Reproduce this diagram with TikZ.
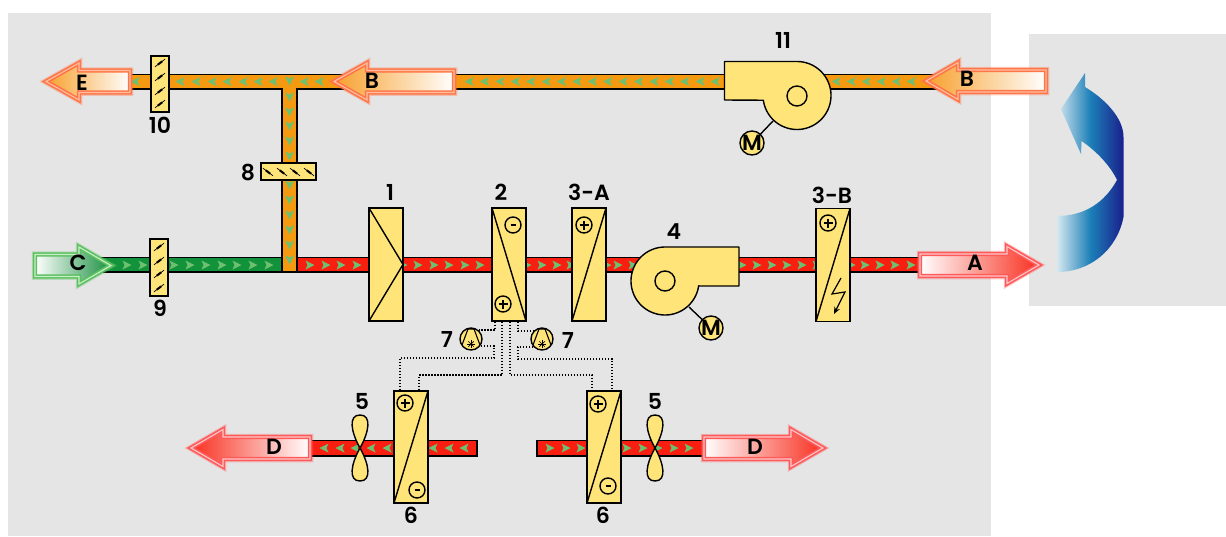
\documentclass[tikz,border=0pt]{standalone}
\usepackage{fontspec}
\usetikzlibrary{arrows.meta}
\setmainfont{Poppins SemiBold}
\definecolor{bggray}{HTML}{E5E5E5}
\definecolor{unitY}{HTML}{FFE47A}
\definecolor{ductO}{HTML}{F59A10}
\definecolor{ductR}{HTML}{F81E10}
\definecolor{ductG}{HTML}{13923C}
\definecolor{chevG}{HTML}{6CC070}
\definecolor{edgeO}{HTML}{FF7548}
\definecolor{paleO}{HTML}{FFC0A0}
\definecolor{edgeR}{HTML}{FF5A5A}
\definecolor{paleR}{HTML}{FFC8C8}
\definecolor{edgeG}{HTML}{5CC060}
\definecolor{paleG}{HTML}{C8F0C8}
\definecolor{fillO}{HTML}{F7A02C}
\definecolor{fillR}{HTML}{F83020}
\definecolor{fillG}{HTML}{1A9040}
\definecolor{blueA}{HTML}{D6E8F0}
\definecolor{blueB}{HTML}{1C80B8}
\definecolor{blueC}{HTML}{1A1F8C}
\tikzset{
  ln/.style={draw=black,line width=1.4pt},
  duct/.style={ln,line join=miter},
  unitbox/.style={draw=black,line width=1.4pt,fill=unitY,rectangle,inner sep=0pt,outer sep=0pt,minimum width=#1},
  unitbox/.default=34pt,
  rnd/.style={draw=black,line width=1.4pt,fill=unitY,circle,inner sep=0pt,outer sep=0pt},
  lab/.style={font=\fontsize{22}{22}\selectfont,inner sep=0pt,text=black},
  mlab/.style={font=\fontsize{22}{22}\selectfont,inner sep=0pt,text=black},
  dots/.style={draw=black,line width=1.2pt,dash pattern=on 1.4pt off 1.6pt},
}
% direction-neutral chevron: x, y, rotation
\newcommand{\chev}[3]{\fill[chevG,shift={(#1,#2)},rotate=#3] (-4.5,-4.5)--(4.5,0)--(-4.5,4.5)--(-2.5,0)--cycle;}
% outlined arrow: tip, back, end, y, shaft half, head half, shade keys, edge, pale
\newcommand{\bigarrow}[9]{%
  \def\arrowpath{(#1,#4)--(#2,#4-#6)--(#2,#4-#5)--(#3,#4-#5)--(#3,#4+#5)--(#2,#4+#5)--(#2,#4+#6)--cycle}%
  \draw[#8,opacity=.35,line width=6.5pt,line join=miter] \arrowpath;
  \shade[#7] \arrowpath;
  \draw[#8,line width=4.4pt,line join=miter] \arrowpath;
  \draw[#9,line width=1.1pt,line join=miter] \arrowpath;
}
\newcommand{\plusmark}[1]{\draw[black,line width=1.2pt] ([xshift=-4.5pt]#1.center)--([xshift=4.5pt]#1.center) ([yshift=-4.5pt]#1.center)--([yshift=4.5pt]#1.center);}
\newcommand{\minusmark}[1]{\draw[black,line width=2.2pt] ([xshift=-2.5pt]#1.center)--([xshift=2.5pt]#1.center);}
% damper blade: x, y, sign
\newcommand{\blade}[3]{\draw[black,line width=.7pt] (#1-5*#3,#2+3.8)--(#1+5*#3,#2-3.8);\draw[black,line width=2pt] (#1-2.2*#3,#2+1.7)--(#1+2.2*#3,#2-1.7);}
% propeller blades: x, y
\newcommand{\prop}[2]{\draw[ln,fill=unitY] (#1,#2) .. controls (#1-9,#2-16) and (#1-12,#2-33) .. (#1,#2-33) .. controls (#1+12,#2-33) and (#1+9,#2-16) .. (#1,#2) .. controls (#1-9,#2+16) and (#1-12,#2+33) .. (#1,#2+33) .. controls (#1+12,#2+33) and (#1+9,#2+16) .. (#1,#2) -- cycle;}
% coolant circle inner drawing
\newcommand{\coolant}[1]{%
  \draw[black,line width=1.1pt] ([xshift=-9pt,yshift=-6pt]#1.center)--([xshift=-3pt,yshift=10pt]#1.center)--([xshift=3pt,yshift=10pt]#1.center)--([xshift=9pt,yshift=-6pt]#1.center);
  \foreach \an in {0,45,90,135}{\draw[black,line width=.7pt] ([yshift=-5pt]#1.center)+(\an:3.8pt)--+(\an+180:3.8pt);}
}
\begin{document}
\begin{tikzpicture}[x=1pt,y=-1pt]
\useasboundingbox (0,0) rectangle (1226,536);
\fill[white] (0,0) rectangle (1226,536);
\fill[bggray] (8,13) rectangle (991,536);
\fill[bggray] (1029,34) rectangle (1226,306);

% curved blue arrow
\shade[left color=blueA,right color=blueC,middle color=blueB]
  (1085,73)--(1085,87) .. controls (1105,99) and (1123.5,118) .. (1123.5,137)
  --(1123.5,217) .. controls (1117,250) and (1090,272) .. (1057,272)
  --(1057,216) .. controls (1085,216) and (1105,202) .. (1117,180)
  .. controls (1110,165) and (1095,150) .. (1081.5,141)
  --(1081,154)--(1061,109)--cycle;

% ducts
\draw[duct,fill=ductR] (290,257.5) rectangle (925,272);
\draw[duct,fill=ductG] (100,257.5) rectangle (290,272);
\draw[duct,fill=ductO] (130,74.5)--(950,74.5)--(950,89)--(297,89)--(297,272)--(282,272)--(282,89)--(130,89)--cycle;
\draw[duct,fill=ductR] (305,440.5) rectangle (477,456);
\draw[duct,fill=ductR] (537,440.5) rectangle (710,456);

% chevrons
\foreach \x in {135,180,196,212,227,243,258,273,304,319,469,484.4,499.8,515.2,530.6,546,561.4,576.8,592.2,607.6,623,638.4,653.8,669.2,684.6,700,715,836,851,866,881,896,911}{\chev{\x}{81.5}{180}}
\foreach \y in {81,97,112,126,141,156,185,200,215,230,245,260}{\chev{289.5}{\y}{-90}}
\foreach \x in {127,143,174,190,206,222,237,253,269,310,326,341,357,403,418,434,449,465,480,527,542,557,571,607,618,633,742,757,772,787,802,817,851,865,880,895,911}{\chev{\x}{265}{0}}
\foreach \x in {324,340,355,371,387,433,449,464}{\chev{\x}{448}{180}}
\foreach \x in {550,566,581,627,643,658,674,689}{\chev{\x}{448}{0}}

% big arrows
\bigarrow{46}{79}{130}{81.5}{11}{18.5}{left color=fillO,right color=white}{edgeO}{paleO}
\bigarrow{334}{367}{454}{81.5}{11}{18.5}{left color=fillO,right color=white}{edgeO}{paleO}
\bigarrow{926}{958}{1046}{81}{11}{18.5}{left color=fillO,right color=white}{edgeO}{paleO}
\bigarrow{111}{79}{35}{265.5}{11}{18.5}{left color=white,right color=fillG}{edgeG}{paleG}
\bigarrow{1039}{1007}{920}{265}{11}{18.5}{left color=white,right color=fillR}{edgeR}{paleR}
\bigarrow{191}{223}{310}{448}{11}{18.5}{left color=fillR,right color=white}{edgeR}{paleR}
\bigarrow{823}{791}{704}{448}{11}{18.5}{left color=white,right color=fillR}{edgeR}{paleR}

% dampers
\node[unitbox=18pt,minimum height=56pt] (d10) at (160,84) {};
\foreach \y in {63,77,91,104}{\blade{160}{\y}{1}}
\node[unitbox=18pt,minimum height=57pt] (d9) at (159,267.5) {};
\foreach \y in {247,261,274,288}{\blade{159}{\y}{1}}
\node[unitbox=55pt,minimum height=17pt] (d8) at (288.5,171.5) {};
\foreach \x in {268,282,295,309}{\blade{\x}{172}{-1}}

% units
\node[unitbox,minimum height=113pt] (u1) at (386,264.5) {};
\draw[ln] (u1.north west)--(u1.east)--(u1.south west);
\node[unitbox,minimum height=113pt] (u2) at (509,264.5) {};
\draw[ln] (u2.north west)--(u2.south east);
\node[unitbox,minimum height=113pt] (u3a) at (589,264.5) {};
\draw[ln] (u3a.south west)--(u3a.north east);
\node[unitbox,minimum height=113pt] (u3b) at (833,265) {};
\draw[ln] (u3b.south west)--(u3b.north east);
\node[unitbox,minimum height=112pt] (u6l) at (411,447) {};
\draw[ln] (u6l.south west)--(u6l.north east);
\node[unitbox,minimum height=112pt] (u6r) at (604,447) {};
\draw[ln] (u6r.south west)--(u6r.north east);

% plus / minus
\node[rnd,fill=none,minimum size=16pt] (m2) at (513,225) {}; \minusmark{m2}
\node[rnd,fill=none,minimum size=16pt] (p2) at (503,304) {}; \plusmark{p2}
\node[rnd,fill=none,minimum size=16pt] (p3a) at (584,225) {}; \plusmark{p3a}
\node[rnd,fill=none,minimum size=16pt] (p3b) at (828,223) {}; \plusmark{p3b}
\node[rnd,fill=none,minimum size=16pt] (p6l) at (405,403) {}; \plusmark{p6l}
\node[rnd,fill=none,minimum size=16pt] (m6l) at (417,490) {}; \minusmark{m6l}
\node[rnd,fill=none,minimum size=16pt] (p6r) at (598,404) {}; \plusmark{p6r}
\node[rnd,fill=none,minimum size=16pt] (m6r) at (608,486) {}; \minusmark{m6r}

% lightning
\draw[black,line width=1.2pt,-{Stealth[length=7pt,width=6pt]}] (841,278)--(832,294)--(845,292)--(834,314);

% fan 4
\draw[ln,fill=unitY,line join=round] (665,247)--(739,247)--(739,286)--(699,286)--plot[domain=8:270,samples=70] ({665+34*cos(\x)},{281+34*sin(\x)})--cycle;
\node[rnd,minimum size=20pt] (f4) at (665,281) {};
\node[rnd,minimum size=24pt] (m4) at (711,328) {};
\coordinate (f4b) at (689,307);
\draw[ln] (f4b)--(m4);
\node[mlab] at (m4) {M};

% fan 11
\draw[ln,fill=unitY,line join=round] (724.5,61.5)--(797,61.5)--plot[domain=-90:172,samples=70] ({797+34*cos(\x)},{95.5+34*sin(\x)})--(724.5,100)--cycle;
\node[rnd,minimum size=20pt] (f11) at (797,96) {};
\node[rnd,minimum size=24pt] (m11) at (752,143) {};
\coordinate (f11b) at (773,121);
\draw[ln] (f11b)--(m11);
\node[mlab] at (m11) {M};

% propellers
\prop{360}{448}
\prop{655}{448}

% coolant circles
\node[rnd,minimum size=22pt] (c7l) at (471,339) {}; \coolant{c7l}
\node[rnd,minimum size=22pt] (c7r) at (542,339) {}; \coolant{c7r}

% dotted connections
\coordinate (a1) at (495,321.5); \coordinate (a2) at (479,330);
\coordinate (b1) at (481,346);   \coordinate (b2) at (400,391);
\coordinate (c1) at (502,321.5); \coordinate (c2) at (419,391);
\coordinate (d1) at (510,321.5); \coordinate (d2) at (592,391);
\coordinate (e1) at (518,321.5); \coordinate (e2) at (534,331);
\coordinate (g1) at (533,347);   \coordinate (g2) at (612,391);
\draw[dots] (a1)--(495,330)--(a2);
\draw[dots] (b1)--(494,346)--(494,358)--(400,358)--(b2);
\draw[dots] (c1)--(502,375)--(419,375)--(c2);
\draw[dots] (d1)--(510,375)--(592,375)--(d2);
\draw[dots] (e1)--(518,331)--(e2);
\draw[dots] (g1)--(518,347)--(518,359)--(612,359)--(g2);

% labels
\node[lab] (l1) at (390,192) {1};
\node[lab] (l2) at (501,192) {2};
\node[lab] (l3a) at (589,192) {3-A};
\node[lab] (l3b) at (832,195) {3-B};
\node[lab] (l4) at (674,232) {4};
\node[lab] (l5a) at (362,401) {5};
\node[lab] (l5b) at (655,401) {5};
\node[lab] (l6a) at (411,515) {6};
\node[lab] (l6b) at (603,515) {6};
\node[lab] (l7a) at (447,339) {7};
\node[lab] (l7b) at (568,340) {7};
\node[lab] (l8) at (248,172) {8};
\node[lab] (l9) at (160,308) {9};
\node[lab] (l10) at (160,125) {10};
\node[lab] (l11) at (783,40) {11};
\node[lab] (la) at (975,263) {A};
\node[lab] (lb1) at (967,79) {B};
\node[lab] (lb2) at (372,81) {B};
\node[lab] (lc) at (78,263) {C};
\node[lab] (ld1) at (274,447) {D};
\node[lab] (ld2) at (755,447) {D};
\node[lab] (le) at (82,83) {E};
\end{tikzpicture}
\end{document}
